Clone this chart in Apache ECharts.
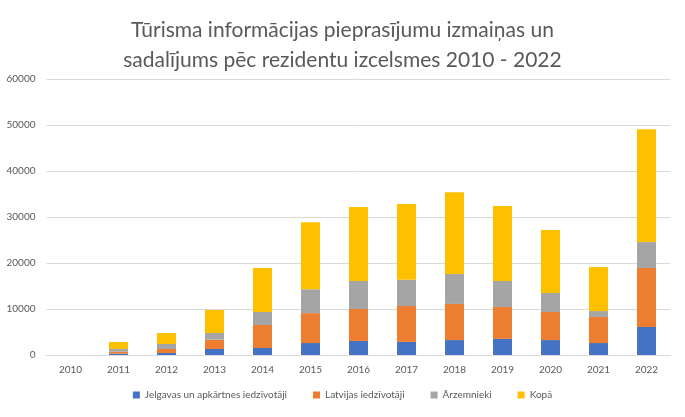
<!DOCTYPE html>
<html><head><meta charset="utf-8">
<script src="https://cdn.jsdelivr.net/npm/echarts@6/dist/echarts.min.js"></script>
<style>html,body{margin:0;padding:0;background:#fff}#c{width:685px;height:417px}</style>
</head><body><div id="c"></div>
<script>
const years = ['2010','2011','2012','2013','2014','2015','2016','2017','2018','2019','2020','2021','2022'];
const jelgava = [0, 300, 430, 1300, 1520, 2600, 3050, 2850, 3250, 3500, 3250, 2600, 6100];
const latvija = [0, 430, 870, 2030, 5000, 6500, 6950, 7800, 7850, 6950, 6100, 5650, 12800];
const arzemnieki = [0, 590, 1090, 1450, 2830, 5200, 6100, 5700, 6500, 5650, 4150, 1300, 5650];
const kopa = [0, 1500, 2390, 5000, 9570, 14550, 16100, 16450, 17800, 16300, 13700, 9550, 24550];
const seriesNames = ['Jelgavas un apkārtnes iedzīvotāji', 'Latvijas iedzīvotāji', 'Ārzemnieki', 'Kopā'];
const colors = ['#4472C4', '#ED7D31', '#A5A5A5', '#FFC000'];
const yTicks = {min: 0, max: 60000, interval: 10000};
const titleText = 'Tūrisma informācijas pieprasījumu izmaiņas un\nsadalījums pēc rezidentu izcelsmes 2010 - 2022';

const font = 'Lato, "Open Sans", sans-serif';
const chart = echarts.init(document.getElementById('c'), null, {renderer: 'canvas'});
const dataArr = [jelgava, latvija, arzemnieki, kopa];
chart.setOption({
  animation: false,
  color: colors,
  title: {
    text: titleText, left: 'center', top: 10,
    textStyle: {fontFamily: font, fontSize: 21, fontWeight: 'normal', color: '#595959', lineHeight: 30}
  },
  grid: {left: 46.5, right: 14.5, top: 79, bottom: 62, containLabel: false},
  legend: {
    bottom: 12, left: 'center', itemWidth: 7, itemHeight: 7, itemGap: 26, icon: 'rect',
    textStyle: {fontFamily: font, fontSize: 10, color: '#595959'},
    data: seriesNames
  },
  xAxis: {
    type: 'category', data: years,
    axisLine: {lineStyle: {color: '#d9d9d9'}}, axisTick: {show: false},
    axisLabel: {fontFamily: font, fontSize: 10, color: '#595959', margin: 10}
  },
  yAxis: {
    type: 'value', min: yTicks.min, max: yTicks.max, interval: yTicks.interval,
    axisLine: {show: false}, axisTick: {show: false},
    splitLine: {lineStyle: {color: '#d9d9d9'}},
    axisLabel: {fontFamily: font, fontSize: 10, color: '#595959', margin: 11, formatter: v => String(v)}
  },
  series: seriesNames.map((n, i) => ({
    name: n, type: 'bar', stack: 'total', barWidth: 19, data: dataArr[i]
  }))
});
</script></body></html>
